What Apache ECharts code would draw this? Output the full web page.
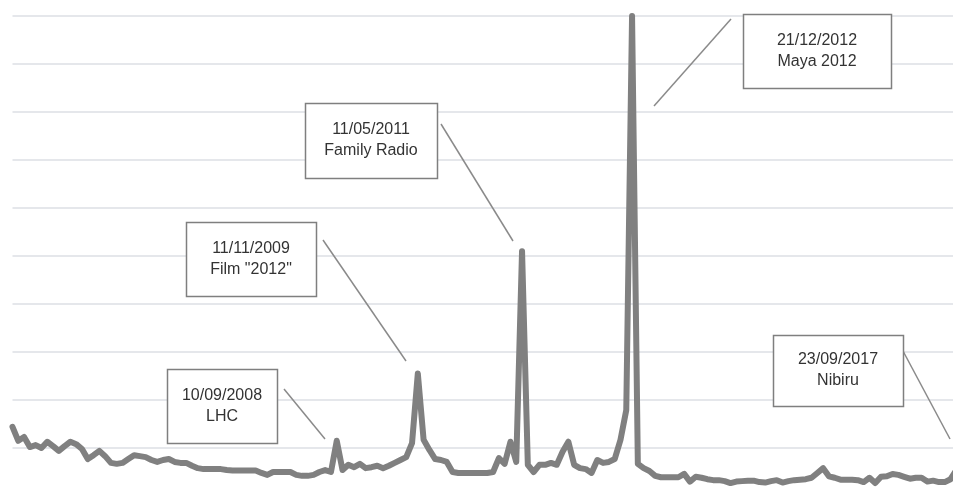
<!DOCTYPE html>
<html>
<head>
<meta charset="utf-8">
<script src="https://cdn.jsdelivr.net/npm/echarts@6/dist/echarts.min.js"></script>
<style>
html,body{margin:0;padding:0;background:#fff;}
#main{width:953px;height:491px;}
</style>
</head>
<body>
<div id="main"></div>
<script>
// Monthly search interest, Jan 2004 .. Sep 2017 (index, peak = 100)
var startYear = 2004;
var months = [];
for (var k = 0; k < 165; k++) {
  var yy = startYear + Math.floor(k / 12), mm = (k % 12) + 1;
  months.push(yy + '-' + (mm < 10 ? '0' + mm : mm));
}
var interest = [
  14.4, 11.5, 12.3, 10.2, 10.6, 10, 11.3, 10.4, 9.4, 10.4, 11.3, 10.8,
  9.8, 7.7, 8.5, 9.4, 8.3, 6.9, 6.7, 6.9, 7.7, 8.5, 8.3, 8.1,
  7.5, 7.1, 7.5, 7.7, 7.1, 6.9, 6.9, 6.3, 5.8, 5.6, 5.6, 5.6,
  5.6, 5.4, 5.3, 5.3, 5.3, 5.3, 5.3, 4.8, 4.4, 5, 5, 5,
  5, 4.4, 4.2, 4.2, 4.4, 5, 5.4, 5, 11.5, 5.4, 6.5, 6,
  6.7, 5.8, 6, 6.3, 5.8, 6.3, 6.9, 7.5, 8.1, 11, 25.5, 11.7,
  9.6, 7.7, 7.5, 7.1, 5, 4.8, 4.8, 4.8, 4.8, 4.8, 4.8, 5,
  7.9, 6.7, 11.3, 7.1, 51, 6.5, 5, 6.5, 6.5, 6.9, 6.5, 9.2,
  11.3, 6.5, 5.8, 5.6, 4.8, 7.5, 6.9, 7.1, 7.7, 11.7, 17.9, 100,
  6.7, 5.8, 5.2, 4.2, 3.9, 3.9, 3.9, 3.9, 4.6, 3, 4, 3.8,
  3.5, 3.3, 3.3, 3.1, 2.7, 3, 3.1, 3.2, 3.2, 2.9, 2.8, 3.1,
  3.3, 2.8, 3.1, 3.3, 3.4, 3.5, 3.8, 4.8, 5.8, 4.1, 3.8, 3.4,
  3.4, 3.4, 3.3, 2.9, 3.8, 2.7, 4, 4.1, 4.6, 4.4, 4, 3.6,
  3.8, 3.8, 3, 3.2, 2.9, 2.9, 3.5, 5.4, 9.6
];
var annotationDates = ['10/09/2008', '11/11/2009', '11/05/2011', '21/12/2012', '23/09/2017'];
var annotationNames = ['LHC', 'Film "2012"', 'Family Radio', 'Maya 2012', 'Nibiru'];

// Layout of the callouts (box rect + leader line), in pixels
var callouts = [
  {box: [167, 369, 110, 74], line: [284, 389, 325, 439]},
  {box: [186, 222, 130, 74], line: [323, 240, 406, 361]},
  {box: [305, 103, 132, 75], line: [441, 124, 513, 241]},
  {box: [743, 14, 148, 74], line: [731, 19, 654, 106]},
  {box: [773, 335, 130, 71], line: [903, 351, 950, 439]}
];

var graphics = [];
callouts.forEach(function (c, i) {
  graphics.push({
    type: 'line', z: 10,
    shape: {x1: c.line[0], y1: c.line[1], x2: c.line[2], y2: c.line[3]},
    style: {stroke: '#8a8a8a', lineWidth: 1.5}
  });
  graphics.push({
    type: 'rect', z: 10,
    shape: {x: c.box[0] + 0.5, y: c.box[1] + 0.5, width: c.box[2], height: c.box[3]},
    style: {fill: '#ffffff', stroke: '#7f7f7f', lineWidth: 1.5}
  });
  graphics.push({
    type: 'text', z: 11,
    x: c.box[0] + c.box[2] / 2, y: c.box[1] + c.box[3] / 2,
    style: {
      text: annotationDates[i] + '\n' + annotationNames[i],
      fill: '#333333',
      font: '16px "Liberation Sans", Arial, sans-serif',
      lineHeight: 21,
      align: 'center',
      verticalAlign: 'middle'
    }
  });
});

var chart = echarts.init(document.getElementById('main'), null, {renderer: 'canvas'});
chart.setOption({
  animation: false,
  backgroundColor: '#ffffff',
  grid: {left: 12.5, top: 16, width: 949.6, height: 480, containLabel: false, outerBoundsMode: 'none'},
  xAxis: {
    type: 'category',
    data: months,
    boundaryGap: false,
    axisLine: {show: false},
    axisTick: {show: false},
    axisLabel: {show: false},
    splitLine: {show: false}
  },
  yAxis: {
    type: 'value',
    min: 0, max: 100, interval: 10,
    axisLine: {show: false},
    axisTick: {show: false},
    axisLabel: {show: false},
    splitLine: {show: true, lineStyle: {color: '#dcdfe5', width: 1.5}}
  },
  series: [{
    type: 'line',
    data: interest,
    symbol: 'none',
    smooth: false,
    clip: true,
    lineStyle: {color: '#808080', width: 6, cap: 'round', join: 'round'}
  }],
  graphic: graphics
});
</script>
</body>
</html>
